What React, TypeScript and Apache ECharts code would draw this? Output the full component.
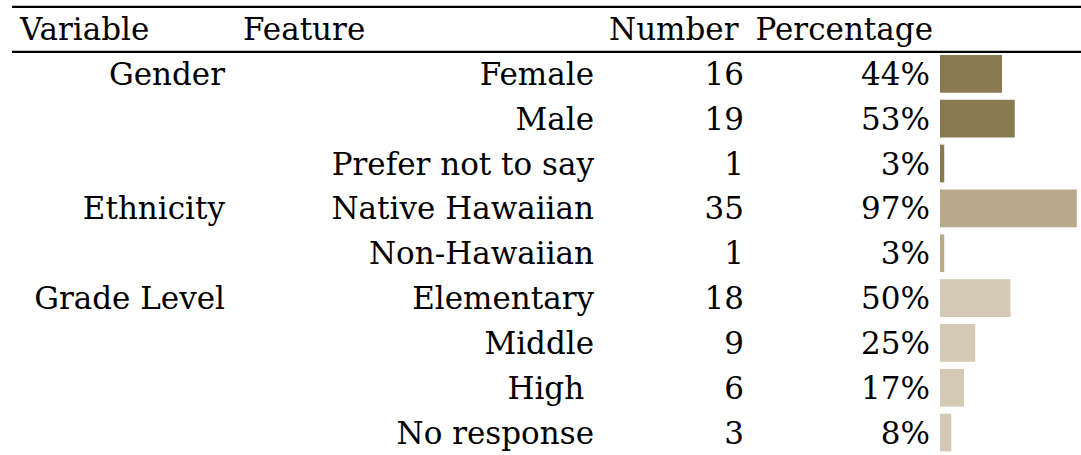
import React, { useEffect, useRef } from "react";
import * as echarts from "echarts";

const variables = ["Gender", "", "", "Ethnicity", "", "Grade Level", "", "", ""];
const features = ["Female", "Male", "Prefer not to say", "Native Hawaiian", "Non-Hawaiian", "Elementary", "Middle", "High ", "No response"];
const numbers = [16, 19, 1, 35, 1, 18, 9, 6, 3];
const percentages = [44, 53, 3, 97, 3, 50, 25, 17, 8];
const headers = ["Variable", "Feature", "Number", "Percentage"];
const rowGroupColors = ["#8a7a53", "#8a7a53", "#8a7a53", "#b8a98a", "#b8a98a", "#d3c9b4", "#d3c9b4", "#d3c9b4", "#d3c9b4"];

const FONT = "DejaVu Serif";
const FS = 31;

export default function App() {
  const ref = useRef<HTMLDivElement>(null);
  useEffect(() => {
    if (!ref.current) return;
    const chart = echarts.init(ref.current, undefined, { renderer: "svg" });
    const labelAxis = (data: (string | number)[], margin: number) => ({
      type: "category",
      gridIndex: 0,
      data,
      inverse: true,
      position: "left",
      axisLine: { show: false },
      axisTick: { show: false },
      splitLine: { show: false },
      axisLabel: {
        interval: 0,
        margin,
        color: "#000",
        fontFamily: FONT,
        fontSize: FS,
        align: "right",
      },
    });
    const lineStyle = { stroke: "#000", lineWidth: 2.2 };
    const headerStyle = (text: string, align: string) => ({
      text,
      fontFamily: FONT,
      fontSize: FS,
      fill: "#000",
      align,
      verticalAlign: "middle",
    });
    chart.setOption({
      animation: false,
      backgroundColor: "#fff",
      grid: { left: 940, top: 51.4, width: 148, height: 405, containLabel: false },
      xAxis: { type: "value", min: 0, max: 100, show: false },
      yAxis: [
        labelAxis(features, 346),
        labelAxis(variables, 715),
        labelAxis(numbers, 196),
        labelAxis(percentages.map((p) => p + "%"), 10),
      ],
      series: [
        {
          type: "bar",
          yAxisIndex: 0,
          barWidth: 37.7,
          data: percentages.map((p, i) => ({ value: p, itemStyle: { color: rowGroupColors[i] } })),
        },
      ],
      graphic: [
        { type: "line", shape: { x1: 12, y1: 6.8, x2: 1081, y2: 6.8 }, style: lineStyle },
        { type: "line", shape: { x1: 12, y1: 51.8, x2: 1081, y2: 51.8 }, style: lineStyle },
        { type: "text", x: 20, y: 29, style: headerStyle(headers[0], "left") },
        { type: "text", x: 243, y: 29, style: headerStyle(headers[1], "left") },
        { type: "text", x: 609, y: 29, style: headerStyle(headers[2], "left") },
        { type: "text", x: 933, y: 29, style: headerStyle(headers[3], "right") },
      ],
    });
    return () => chart.dispose();
  }, []);
  return <div ref={ref} style={{ position: "fixed", left: 0, top: 0, width: 1081, height: 455 }} />;
}
